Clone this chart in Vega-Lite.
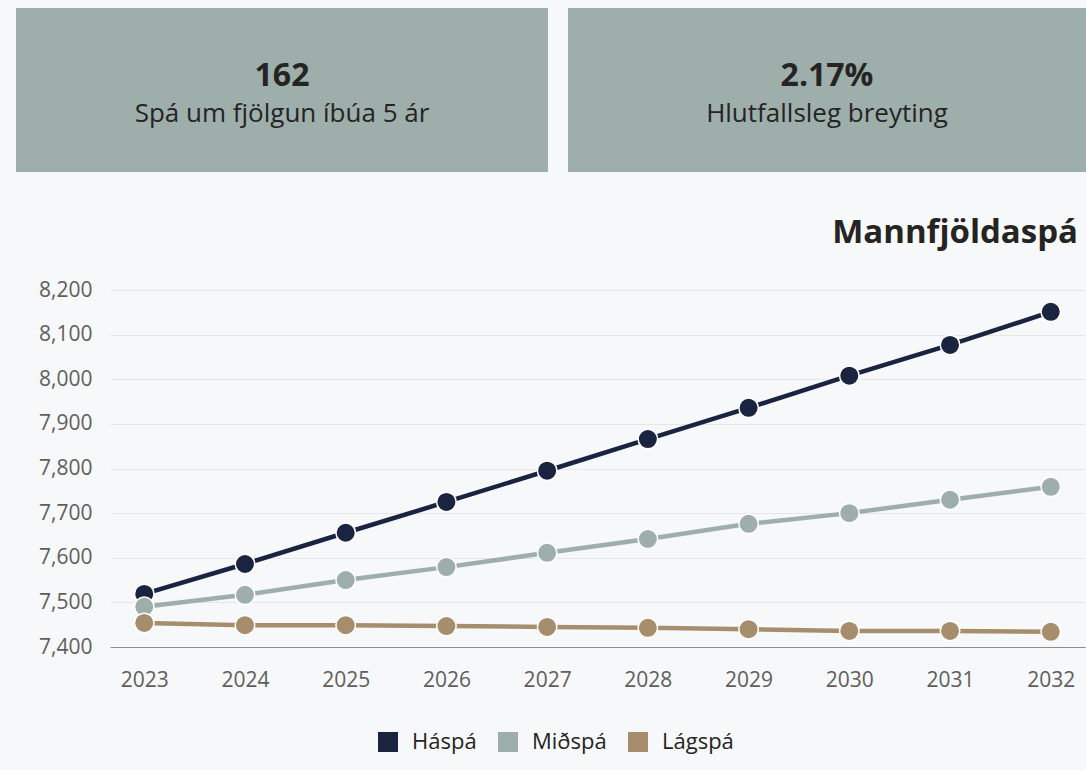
{
  "$schema": "https://vega.github.io/schema/vega-lite/v6.json",
  "background": "#f7f8fa",
  "padding": {"left": 16, "top": 8, "right": 0, "bottom": 18},
  "config": {"font": "Open Sans", "view": {"stroke": null}},
  "datasets": {
    "kpi1": [{"row": "v", "text": "162"}, {"row": "l", "text": "Spá um fjölgun íbúa 5 ár"}],
    "kpi2": [{"row": "v", "text": "2.17%"}, {"row": "l", "text": "Hlutfallsleg breyting"}],
    "pop": [
      {"series": "Háspá", "year": 2023, "value": 7519},
      {"series": "Háspá", "year": 2024, "value": 7586},
      {"series": "Háspá", "year": 2025, "value": 7656},
      {"series": "Háspá", "year": 2026, "value": 7725},
      {"series": "Háspá", "year": 2027, "value": 7795},
      {"series": "Háspá", "year": 2028, "value": 7866},
      {"series": "Háspá", "year": 2029, "value": 7936},
      {"series": "Háspá", "year": 2030, "value": 8008},
      {"series": "Háspá", "year": 2031, "value": 8077},
      {"series": "Háspá", "year": 2032, "value": 8151},
      {"series": "Miðspá", "year": 2023, "value": 7490},
      {"series": "Miðspá", "year": 2024, "value": 7517},
      {"series": "Miðspá", "year": 2025, "value": 7550},
      {"series": "Miðspá", "year": 2026, "value": 7579},
      {"series": "Miðspá", "year": 2027, "value": 7611},
      {"series": "Miðspá", "year": 2028, "value": 7642},
      {"series": "Miðspá", "year": 2029, "value": 7676},
      {"series": "Miðspá", "year": 2030, "value": 7700},
      {"series": "Miðspá", "year": 2031, "value": 7730},
      {"series": "Miðspá", "year": 2032, "value": 7759},
      {"series": "Lágspá", "year": 2023, "value": 7454},
      {"series": "Lágspá", "year": 2024, "value": 7449},
      {"series": "Lágspá", "year": 2025, "value": 7449},
      {"series": "Lágspá", "year": 2026, "value": 7447},
      {"series": "Lágspá", "year": 2027, "value": 7445},
      {"series": "Lágspá", "year": 2028, "value": 7443},
      {"series": "Lágspá", "year": 2029, "value": 7440},
      {"series": "Lágspá", "year": 2030, "value": 7436},
      {"series": "Lágspá", "year": 2031, "value": 7436},
      {"series": "Lágspá", "year": 2032, "value": 7434}
    ]
  },
  "spacing": 45,
  "vconcat": [
    {
      "spacing": 20,
      "hconcat": [
        {
          "width": 532, "height": 164,
          "view": {"fill": "#9daeab", "stroke": null},
          "data": {"name": "kpi1"},
          "encoding": {
            "y": {"field": "row", "type": "nominal", "scale": {"type": "point", "domain": ["t", "v", "l", "b"], "padding": 0.658, "align": 0.6}, "axis": null},
            "text": {"field": "text"}
          },
          "layer": [
            {"transform": [{"filter": "datum.row == 'v'"}], "mark": {"type": "text", "fontSize": 32, "fontWeight": "bold", "color": "#252423"}},
            {"transform": [{"filter": "datum.row == 'l'"}], "mark": {"type": "text", "fontSize": 26, "color": "#252423"}}
          ]
        },
        {
          "width": 518, "height": 164,
          "view": {"fill": "#9daeab", "stroke": null},
          "data": {"name": "kpi2"},
          "encoding": {
            "y": {"field": "row", "type": "nominal", "scale": {"type": "point", "domain": ["t", "v", "l", "b"], "padding": 0.658, "align": 0.6}, "axis": null},
            "text": {"field": "text"}
          },
          "layer": [
            {"transform": [{"filter": "datum.row == 'v'"}], "mark": {"type": "text", "fontSize": 32, "fontWeight": "bold", "color": "#252423"}},
            {"transform": [{"filter": "datum.row == 'l'"}], "mark": {"type": "text", "fontSize": 26, "color": "#252423"}}
          ]
        }
      ]
    },
    {
      "spacing": 0,
      "hconcat": [
        {
          "width": 1, "height": 357,
          "data": {"name": "pop"},
          "mark": {"type": "point", "opacity": 0, "size": 0},
          "encoding": {
            "y": {"field": "value", "type": "quantitative", "scale": {"domain": [7400, 8200], "nice": false, "zero": false},
                  "axis": {"orient": "right", "title": null, "values": [7400, 7500, 7600, 7700, 7800, 7900, 8000, 8100, 8200], "format": ",.0f", "domain": false, "ticks": false, "grid": false, "labelAlign": "right", "labelPadding": 75, "labelFontSize": 21, "labelColor": "#605e5c", "minExtent": 93, "maxExtent": 93}}
          }
        },
        {
          "width": 975, "height": 357,
          "data": {"name": "pop"},
          "title": {"text": "Mannfjöldaspá", "anchor": "end", "fontSize": 33, "fontWeight": "bold", "color": "#252423", "offset": 40, "dx": -7},
          "encoding": {
            "x": {"field": "year", "type": "ordinal", "scale": {"type": "point", "padding": 0.34},
                  "axis": {"title": null, "labelAngle": 0, "ticks": false, "domainColor": "#8c8c8c", "labelFontSize": 21, "labelColor": "#605e5c", "labelPadding": 22, "grid": false}},
            "y": {"field": "value", "type": "quantitative", "scale": {"domain": [7400, 8200], "nice": false, "zero": false},
                  "axis": {"title": null, "values": [7400, 7500, 7600, 7700, 7800, 7900, 8000, 8100, 8200], "labels": false, "domain": false, "ticks": false, "gridColor": "#e6e6e6", "minExtent": 0, "maxExtent": 0}},
            "color": {"field": "series", "type": "nominal", "sort": null,
                      "scale": {"domain": ["Háspá", "Miðspá", "Lágspá"], "range": ["#1a2340", "#9daeab", "#a68e6d"]},
                      "legend": {"orient": "none", "legendX": 361, "legendY": 723, "direction": "horizontal", "title": null, "symbolType": "square", "symbolSize": 400, "symbolStrokeWidth": 0, "labelFontSize": 22, "labelColor": "#252423", "columnPadding": 20, "labelOffset": 13}}
          },
          "layer": [
            {"mark": {"type": "line", "strokeWidth": 4.5}},
            {"mark": {"type": "point", "shape": "circle", "filled": true, "size": 380, "opacity": 1, "stroke": "white", "strokeWidth": 1.5}}
          ]
        }
      ]
    }
  ]
}
